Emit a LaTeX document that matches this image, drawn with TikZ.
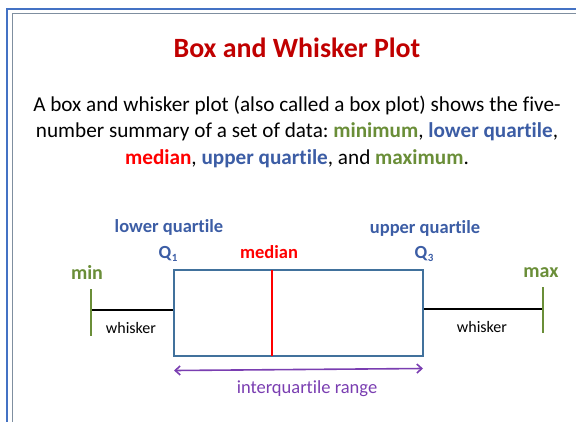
\documentclass[tikz,border=0pt]{standalone}
\usepackage{fontspec}
\setmainfont{Carlito}[Ligatures=NoCommon]
\usetikzlibrary{arrows.meta}
\frenchspacing
\definecolor{titlered}{HTML}{C00000}
\definecolor{brightred}{HTML}{FF0000}
\definecolor{mygreen}{HTML}{6A8E38}
\definecolor{myblue}{HTML}{3C5DA5}
\definecolor{boxblue}{HTML}{41719C}
\definecolor{framecol}{HTML}{4472C4}
\definecolor{framegray}{HTML}{7F8FA0}
\definecolor{iqrpurple}{HTML}{7A3EB1}
\tikzset{
  lbl/.style={inner sep=0pt, anchor=base},
  bluelbl/.style={lbl, text=myblue, font=\fontsize{18.5}{20}\selectfont\bfseries},
  greenlbl/.style={lbl, text=mygreen, font=\fontsize{20}{22}\selectfont\bfseries},
  whisklbl/.style={lbl, font=\fontsize{16}{18}\selectfont},
  para/.style={lbl, font=\fontsize{21.2}{24}\selectfont},
}
\newcommand{\gw}[1]{\textcolor{mygreen}{\bfseries #1}}
\newcommand{\bw}[1]{\textcolor{myblue}{\bfseries #1}}
\newcommand{\rw}[1]{\textcolor{brightred}{\bfseries #1}}
% quartile symbol with a small lowered index
\newcommand{\qsub}[1]{Q\kern0.5pt\raisebox{-3pt}{\fontsize{11}{12}\selectfont #1}}
\begin{document}
\begin{tikzpicture}[x=1pt,y=-1pt]
  \useasboundingbox (0,0) rectangle (576,421);
  \begin{scope}
    \clip (0,0) rectangle (576,421);
    % slide frame: blue outer rule, thin grey inner rule
    \draw[framecol, line width=2.4pt] (7,9) rectangle (620,460);
    \draw[framegray, line width=1pt] (12.5,13.5) rectangle (620,460);
  \end{scope}

  % title
  \node[lbl, text=titlered, font=\fontsize{27.9}{32}\selectfont\bfseries] (title) at (297,57) {Box and Whisker Plot};

  % description
  \node[para] (l1) at (297,111) {A box and whisker plot (also called a box plot) shows the five-};
  \node[para] (l2) at (297,137) {number summary of a set of data: \gw{minimum}, \bw{lower quartile},};
  \node[para] (l3) at (297,164) {\rw{median}, \bw{upper quartile}, and \gw{maximum}.};

  % box
  \node[draw=boxblue, line width=2.6pt, minimum width=249pt, minimum height=86pt, inner sep=0pt] (box) at (298.5,313) {};
  \coordinate (medtop) at (272,270);
  \coordinate (medbot) at (272,356);
  \draw[brightred, line width=2.2pt] (medtop) -- (medbot);

  % whiskers and end ticks
  \coordinate (minend) at (91,310);
  \coordinate (maxend) at (543,309);
  \draw[line width=2.2pt] (minend) -- (box.west |- minend);
  \draw[line width=2.2pt] (box.east |- maxend) -- (maxend);
  \draw[mygreen, line width=2.4pt] (91,289) -- (91,336);
  \draw[mygreen, line width=2.4pt] (543,287) -- (543,333);

  % labels
  \node[greenlbl] (minlbl) at (87,279) {min};
  \node[greenlbl] (maxlbl) at (541,277) {max};
  \node[whisklbl] (wl) at (131,333) {whisker};
  \node[whisklbl] (wr) at (482,332) {whisker};
  \node[bluelbl] (lq) at (169,232) {lower quartile};
  \node[bluelbl] (q1) at (168,258) {\qsub{1}};
  \node[lbl, text=brightred, font=\fontsize{18.5}{20}\selectfont\bfseries] (med) at (269,258) {median};
  \node[bluelbl] (uq) at (425,233) {upper quartile};
  \node[bluelbl] (q3) at (424,258) {\qsub{3}};

  % interquartile range arrow
  \coordinate (iqrl) at (174,370.5);
  \coordinate (iqrr) at (423,368.5);
  \draw[iqrpurple, line width=1.6pt, {Straight Barb[length=5pt,width=9pt]}-{Straight Barb[length=5pt,width=9pt]}] (iqrl) -- (iqrr);
  \node[lbl, text=iqrpurple, font=\fontsize{18.5}{20}\selectfont] (iqr) at (307,393) {interquartile range};
\end{tikzpicture}
\end{document}
